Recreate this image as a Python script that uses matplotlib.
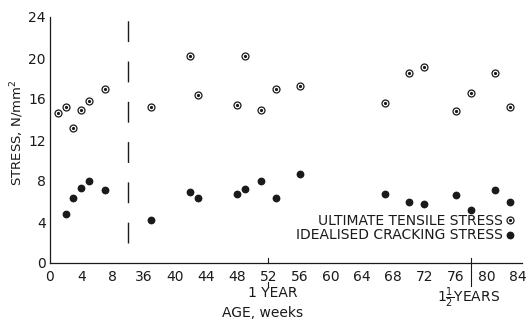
import matplotlib.pyplot as plt
from matplotlib.lines import Line2D

# ultimate tensile stress (open circles)
uts_weeks = [1, 2, 3, 4, 5, 7, 37, 42, 43, 48, 49, 51, 53, 56, 67, 70, 72, 76, 78, 81, 83]
uts_stress = [14.6, 15.2, 13.2, 14.9, 15.8, 17.0, 15.2, 20.2, 16.4, 15.4, 20.2, 14.9,
              17.0, 17.3, 15.6, 18.5, 19.1, 14.8, 16.6, 18.5, 15.2]

# idealised cracking stress (filled circles)
crack_weeks = [2, 3, 4, 5, 7, 37, 42, 43, 48, 49, 51, 53, 56, 67, 70, 72, 76, 78, 81, 83]
crack_stress = [4.75, 6.3, 7.3, 8.0, 7.1, 4.2, 6.9, 6.3, 6.7, 7.25, 8.0, 6.35, 8.7,
                6.7, 6.0, 5.8, 6.6, 5.15, 7.15, 5.95]

tick_weeks = [0, 4, 8, 36, 40, 44, 48, 52, 56, 60, 64, 68, 72, 76, 80, 84]
y_ticks = [0, 4, 8, 12, 16, 20, 24]

def week_to_pos(w):
    '''
    The axis is broken between 8 and 36 weeks, the gap is 4 weeks wide
    '''
    return w if w <= 8 else w - 24

ink = '#1a1a1a'
W, H = 531, 329
fig = plt.figure(figsize=(W / 100, H / 100), dpi=100)
ax = fig.add_axes([50 / W, 66 / H, 472 / W, 246 / H])
ax.set_xlim(0, 60.5)
ax.set_ylim(0, 24)

for s in ['top', 'right']:
    ax.spines[s].set_visible(False)
for s in ['left', 'bottom']:
    ax.spines[s].set_linewidth(0.9)
    ax.spines[s].set_color(ink)

ax.set_xticks([week_to_pos(w) for w in tick_weeks])
ax.set_xticklabels([str(w) for w in tick_weeks])
ax.set_yticks(y_ticks)
ax.set_yticklabels([str(v) for v in y_ticks])
ax.tick_params(axis='x', length=0, pad=5, labelsize=10, labelcolor=ink)
ax.tick_params(axis='y', length=0, pad=3, labelsize=10, labelcolor=ink)

uts_x = [week_to_pos(w) for w in uts_weeks]
ax.plot(uts_x, uts_stress, linestyle='none', marker='o', markersize=5,
        markerfacecolor='white', markeredgecolor=ink, markeredgewidth=0.9, clip_on=False)
ax.plot(uts_x, uts_stress, linestyle='none', marker='o', markersize=1.3,
        color=ink, clip_on=False)
ax.plot([week_to_pos(w) for w in crack_weeks], crack_stress, linestyle='none',
        marker='o', markersize=4.6, color=ink, clip_on=False)

# axis break
ax.plot([10, 10], [2, 24], color=ink, lw=1.0, dashes=(15, 14))

# 1 year and 1.5 year marks
trans = ax.get_xaxis_transform()
ax.add_line(Line2D([week_to_pos(52)] * 2, [0, 5 / 246], transform=trans,
                   color=ink, lw=0.8, clip_on=False))
ax.add_line(Line2D([week_to_pos(52)] * 2, [-19 / 246, -24 / 246], transform=trans,
                   color=ink, lw=0.8, clip_on=False))
ax.add_line(Line2D([week_to_pos(78)] * 2, [5 / 246, -23 / 246], transform=trans,
                   color=ink, lw=0.8, clip_on=False))

fig.text(273 / W, 1 - 293 / H, '1 YEAR', ha='center', va='center', fontsize=10, color=ink)
fig.text(469 / W, 1 - 298 / H, '$1\\frac{1}{2}$YEARS', ha='center', va='center',
         fontsize=10, color=ink)
fig.text(263 / W, 1 - 313 / H, 'AGE, weeks', ha='center', va='center', fontsize=10, color=ink)
fig.text(17 / W, 1 - 133 / H, 'STRESS, N/mm$^2$', ha='center', va='center',
         rotation=90, fontsize=9.5, color=ink)

handles = [(Line2D([], [], linestyle='none', marker='o', markersize=5, markerfacecolor='white',
                   markeredgecolor=ink, markeredgewidth=0.9),
            Line2D([], [], linestyle='none', marker='o', markersize=1.3, color=ink)),
           Line2D([], [], linestyle='none', marker='o', markersize=4.6, color=ink)]
ax.legend(handles, ['ULTIMATE TENSILE STRESS', 'IDEALISED CRACKING STRESS'],
          loc='lower right', bbox_to_anchor=(1.0, 0.05), markerfirst=False,
          frameon=False, handlelength=0.5, handletextpad=0.3, labelspacing=0.05,
          borderpad=0.1, fontsize=10, labelcolor=ink)

fig.savefig('out.png', dpi=100)
